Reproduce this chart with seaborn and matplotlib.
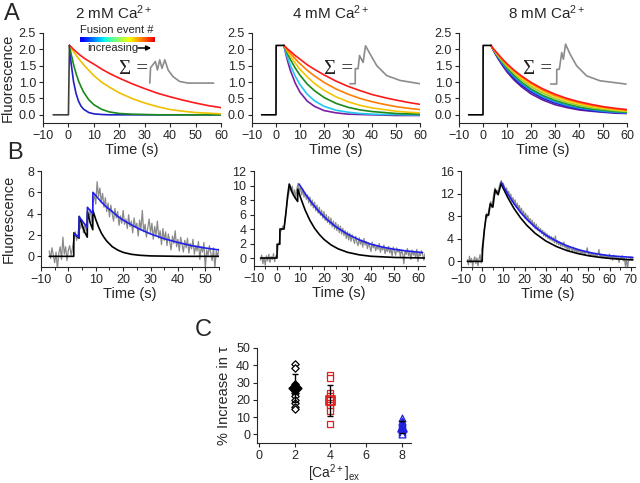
import numpy as np
import matplotlib
matplotlib.use("Agg")
import matplotlib.pyplot as plt
import seaborn as sns
from matplotlib.ticker import FormatStrFormatter, MultipleLocator

# ---------------- panel A: single fusion event curves ----------------
a1_t = [0.4, 1, 2, 3, 4, 5, 6, 8, 10, 13, 16, 20, 25, 30, 35, 40, 45, 50, 55, 60]
a1_blue = [2.12, 1.61, 1.02, 0.65, 0.41, 0.26, 0.17, 0.07, 0.03, 0.01, 0, 0, 0, 0, 0, 0, 0, 0, 0, 0]
a1_green = [2.12, 1.88, 1.54, 1.26, 1.03, 0.85, 0.69, 0.46, 0.31, 0.17, 0.09, 0.04, 0.02, 0.01, 0, 0, 0, 0, 0, 0]
a1_yellow = [2.12, 2.05, 1.93, 1.82, 1.72, 1.62, 1.53, 1.36, 1.20, 1.00, 0.85, 0.67, 0.50, 0.36, 0.25, 0.16, 0.11, 0.07, 0.05, 0.03]
a1_red = [2.12, 2.08, 2.00, 1.93, 1.86, 1.80, 1.74, 1.64, 1.55, 1.40, 1.27, 1.12, 0.95, 0.80, 0.66, 0.55, 0.45, 0.36, 0.28, 0.22]
a1_base_t = [-6, 0, 0.4]
a1_base_y = [0, 0, 2.12]

a23_t = [3.3, 4, 5, 6, 8, 10, 13, 16, 20, 25, 30, 35, 40, 45, 50, 55, 60]
a23_base_t = [-6, 0, 0.05, 3.3]
a23_base_y = [0, 0, 2.12, 2.12]

a2_purple = [2.12, 1.89, 1.60, 1.35, 0.97, 0.69, 0.42, 0.26, 0.13, 0.06, 0.02, 0.01, 0.0, -0.01, -0.02, -0.02, -0.02]
a2_cyan = [2.12, 1.94, 1.71, 1.51, 1.18, 0.92, 0.63, 0.43, 0.26, 0.14, 0.08, 0.04, 0.02, 0.01, 0.01, 0.0, 0.0]
a2_green = [2.12, 2.00, 1.84, 1.69, 1.43, 1.21, 0.94, 0.74, 0.53, 0.35, 0.23, 0.15, 0.10, 0.07, 0.04, 0.03, 0.02]
a2_yellow = [2.12, 2.03, 1.91, 1.79, 1.58, 1.39, 1.16, 0.96, 0.75, 0.55, 0.40, 0.29, 0.21, 0.16, 0.11, 0.08, 0.06]
a2_orange = [2.12, 2.05, 1.96, 1.88, 1.71, 1.56, 1.36, 1.19, 0.99, 0.79, 0.63, 0.50, 0.40, 0.32, 0.25, 0.20, 0.16]
a2_red = [2.12, 2.07, 2.00, 1.94, 1.81, 1.70, 1.53, 1.39, 1.22, 1.03, 0.87, 0.74, 0.62, 0.53, 0.45, 0.38, 0.32]

a3_curves = [
    [2.12, 2.02, 1.88, 1.75, 1.52, 1.31, 1.06, 0.86, 0.64, 0.45, 0.31, 0.22, 0.15, 0.11, 0.08, 0.05, 0.04],
    [2.12, 2.02, 1.89, 1.77, 1.55, 1.36, 1.11, 0.91, 0.70, 0.50, 0.36, 0.26, 0.18, 0.13, 0.09, 0.07, 0.05],
    [2.12, 2.03, 1.91, 1.79, 1.58, 1.39, 1.16, 0.96, 0.75, 0.55, 0.40, 0.29, 0.21, 0.16, 0.11, 0.08, 0.06],
    [2.12, 2.03, 1.92, 1.81, 1.61, 1.43, 1.20, 1.00, 0.79, 0.59, 0.44, 0.33, 0.24, 0.18, 0.14, 0.10, 0.08],
    [2.12, 2.04, 1.93, 1.83, 1.64, 1.48, 1.26, 1.07, 0.86, 0.66, 0.50, 0.38, 0.29, 0.22, 0.17, 0.13, 0.10],
    [2.12, 2.05, 1.95, 1.85, 1.68, 1.52, 1.31, 1.12, 0.92, 0.72, 0.56, 0.43, 0.34, 0.26, 0.21, 0.16, 0.12],
    [2.12, 2.05, 1.95, 1.86, 1.69, 1.54, 1.34, 1.16, 0.96, 0.75, 0.59, 0.47, 0.37, 0.29, 0.23, 0.18, 0.14],
    [2.12, 2.05, 1.96, 1.88, 1.71, 1.56, 1.36, 1.19, 0.99, 0.79, 0.63, 0.50, 0.40, 0.32, 0.25, 0.20, 0.16],
]
a3_colors = ["#6a1b9a", "#2020d0", "#1e90ff", "#1a9a2a", "#9acd32", "#ffd000", "#ff8c00", "#ff1a1a"]

# summed-trace insets
a1_sum_t = [32.0, 32.3, 34.2, 35.0, 35.9, 36.8, 37.9, 39.2, 41.1, 43.7, 47.0, 57.1]
a1_sum_y = [0.97, 1.44, 1.63, 1.37, 1.68, 1.42, 1.68, 1.37, 1.17, 1.02, 0.97, 0.97]
a2_sum_t = [30.8, 33.0, 33.05, 34.2, 34.8, 36.3, 37.3, 39.2, 42.0, 46.1, 51.7, 60.0]
a2_sum_y = [0.95, 0.95, 1.41, 1.41, 1.81, 1.60, 2.11, 1.86, 1.50, 1.20, 1.05, 0.95]
a3_sum_t = [28.2, 30.7, 30.75, 31.8, 32.8, 33.5, 34.4, 36.3, 39.0, 43.2, 48.75, 59.6]
a3_sum_y = [0.94, 0.94, 1.39, 1.39, 1.90, 1.70, 2.16, 1.85, 1.50, 1.19, 1.04, 0.94]

# ---------------- panel B: recorded traces + fits ----------------
b1_gray = [0.5, -0.2, 0.8, 0.1, -0.6, 0.4, -1.2, 0.3, 0.9, -0.3,
           1.8, 0.2, 0.9, -0.4, 0.6, 1.0, 0.1, 0.8, 1.6, 2.3,
           1.5, 2.1, 3.2, 2.6, 3.4, 2.2, 3.0, 2.4, 4.1, 3.6,
           4.4, 3.2, 5.0, 5.8, 4.9, 7.0, 5.6, 6.4, 5.1, 5.9,
           4.6, 5.5, 4.2, 5.0, 3.7, 4.8, 4.0, 3.3, 4.5, 3.6,
           4.2, 2.9, 3.8, 3.1, 4.3, 3.0, 3.5, 2.6, 3.9, 2.8,
           3.3, 2.2, 3.6, 2.7, 3.1, 1.9, 3.4, 2.5, 4.3, 2.3,
           3.0, 1.8, 2.7, 3.5, 2.2, 3.1, 1.6, 2.8, 2.0, 3.3,
           1.7, 2.4, 1.1, 2.6, 1.5, 2.3, 1.0, 2.1, 1.4, 0.6,
           1.9, 1.2, 2.4, 0.9, 1.6, 0.5, 1.8, 1.1, 0.4, 1.5,
           0.8, 1.7, 0.3, 1.2, 0.7, 1.6, 0.2, 1.0, 0.5, 1.4,
           -0.3, 0.9, 0.4, 1.3, -1.2, 0.6, 0.1, 1.0, 0.3, -0.4,
           0.8, -1.1, 0.5, 0.0, 0.7]
b1_black_t = [-7, 1.95, 2.0, 3.0, 3.9, 3.95, 4.9, 5.9, 6.9, 6.95, 7.9, 8.9, 8.95, 10, 11, 12, 13, 14, 16, 18, 20, 23, 26, 30, 40, 55]
b1_black_y = [0, 0, 2.2, 1.9, 1.7, 3.75, 3.0, 2.3, 1.8, 4.2, 3.2, 2.5, 4.3, 3.45, 2.77, 2.2, 1.78, 1.43, 0.91, 0.59, 0.37, 0.19, 0.1, 0.04, 0.0, 0.0]
b1_blue_t = [2, 3.9, 3.95, 6.9, 6.95, 8.9, 8.95, 10, 12, 14, 16, 18, 20, 23, 26, 30, 35, 40, 45, 50, 55]
b1_blue_y = [2.1, 1.8, 3.7, 2.7, 4.6, 4.0, 6.0, 5.7, 5.1, 4.6, 4.2, 3.75, 3.4, 2.95, 2.55, 2.1, 1.65, 1.3, 1.0, 0.78, 0.6]

b2_gray = [-0.3, 0.4, -0.8, 0.1, -1.0, 0.3, -0.4, 0.5, -0.6, 0.2,
           -0.2, 0.6, -0.5, 0.3, 0.1, 1.8, 2.3, 3.6, 3.9, 4.4,
           4.2, 5.6, 6.8, 8.1, 8.9, 10.1, 9.2, 9.9, 8.6, 9.4,
           8.3, 9.6, 10.3, 9.1, 9.8, 8.7, 9.5, 8.4, 9.0, 8.1,
           8.7, 7.6, 8.4, 7.2, 8.0, 6.9, 7.7, 6.5, 7.3, 6.2,
           7.0, 5.9, 6.6, 5.5, 6.4, 5.2, 6.0, 4.9, 5.7, 4.6,
           5.5, 4.3, 5.1, 4.0, 4.9, 3.8, 4.6, 3.5, 4.4, 3.3,
           4.1, 3.1, 3.8, 2.7, 3.6, 2.5, 3.4, 2.3, 3.2, 2.6,
           2.0, 3.0, 2.2, 1.7, 2.8, 1.9, 2.5, 1.5, 2.7, 1.8,
           2.3, 1.3, 2.1, 1.6, 0.9, 2.2, 1.4, 1.9, 1.0, 1.7,
           1.2, 2.0, 0.8, 1.5, 1.1, 1.8, 0.6, 1.4, 0.9, 1.6,
           0.7, 1.3, 0.3, 1.5, 1.0, 0.4, 1.4, 0.8, 1.2, 0.2,
           1.1, 0.6, -0.8, 1.0, 0.5, 1.3, 0.3, 0.9, -0.2, 1.1,
           0.4, 0.8, 0.1, 1.2, -0.5, 0.7, 0.3, 1.0, 0.5, -0.3,
           0.6]
b2_black_t = [-7, 0, 0.05, 1.2, 1.25, 3.0, 3.8, 4.5, 5.2, 6.5, 7.7, 8.8, 8.85, 10, 12, 14, 16, 18, 20, 23, 26, 30, 35, 40, 50, 63]
b2_black_y = [0, 0, 1.9, 1.9, 4.0, 4.0, 6.2, 8.5, 10.2, 9.0, 8.3, 7.8, 9.5, 8.35, 6.6, 5.2, 4.1, 3.26, 2.57, 1.81, 1.27, 0.79, 0.44, 0.24, 0.08, 0.0]
b2_blue_t = [9.4, 12, 15, 18, 21, 25, 30, 35, 40, 45, 50, 55, 62]
b2_blue_y = [10.2, 8.88, 7.51, 6.36, 5.38, 4.31, 3.3, 2.5, 1.9, 1.5, 1.2, 0.98, 0.75]

b3_gray = [0.3, -0.6, 0.9, -0.2, 0.5, -0.9, 0.2, 0.8, -0.4, 0.6,
           -0.8, 0.4, 1.2, -0.3, 0.5, 2.6, 5.8, 6.9, 8.5, 7.8,
           8.9, 9.8, 10.6, 9.5, 10.8, 12.1, 13.0, 11.9, 12.6, 12.0,
           13.2, 13.9, 14.3, 13.1, 13.8, 12.9, 12.2, 13.0, 11.8, 12.4,
           11.2, 11.9, 10.6, 11.3, 10.2, 10.9, 9.6, 10.3, 9.2, 9.9,
           8.6, 9.4, 8.2, 8.9, 7.7, 8.5, 7.4, 8.1, 7.0, 7.6,
           6.6, 7.3, 6.2, 6.9, 5.8, 6.6, 5.5, 6.1, 5.2, 5.8,
           4.9, 5.5, 4.5, 5.2, 4.3, 4.9, 4.0, 4.6, 3.8, 4.4,
           3.6, 4.2, 3.3, 4.5, 3.1, 3.7, 2.9, 3.5, 2.7, 3.3,
           2.6, 3.4, 2.4, 2.9, 2.1, 2.8, 1.9, 2.6, 2.2, 1.8,
           2.5, 1.7, 2.3, 1.5, 2.2, 1.6, 2.0, 1.3, 1.9, 1.4,
           1.8, 1.1, 1.7, 2.4, 1.2, 1.6, 0.9, 1.5, 1.1, 1.3,
           0.8, 1.4, 0.9, 1.2, 2.1, 0.7, 1.3, 0.6, 1.1, 0.8,
           1.2, 0.5, 1.0, 0.7, 1.3, 0.4, 0.9, 0.2, 1.1, 0.6,
           0.9, 0.3, 0.8, -0.2, 0.7, 0.4, 1.0, 0.1, 0.6, -0.9,
           0.5, -1.3, 0.4, 0.2, 0.8, 0.3, 0.6]
b3_black_t = [-7, 0, 0.05, 1.0, 1.9, 3.0, 3.8, 5.0, 6.1, 7.5, 8.9, 10, 12, 15, 18, 21, 25, 30, 35, 40, 45, 50, 55, 60, 65, 71]
b3_black_y = [0, 0, 2.1, 5.5, 8.2, 8.2, 10.2, 9.6, 12.7, 11.8, 13.8, 12.87, 11.33, 9.35, 7.73, 6.39, 4.95, 3.6, 2.62, 1.9, 1.38, 1.0, 0.73, 0.53, 0.39, 0.26]
b3_blue_t = [9, 12, 15, 18, 21, 25, 30, 35, 40, 45, 50, 55, 60, 65, 71]
b3_blue_y = [14.0, 11.95, 10.2, 8.72, 7.44, 6.03, 4.64, 3.57, 2.74, 2.1, 1.62, 1.26, 1.0, 0.85, 0.7]

# ---------------- panel C: % increase in tau ----------------
c_levels = [2, 4, 8]
c2_vals = [40.5, 38.5, 29, 28, 27.5, 27, 26.5, 26, 24, 22, 20, 18, 16, 14.5]
c4_vals = [34.5, 32.5, 24, 22, 20, 18, 17, 15, 13.5, 6]
c8_vals = [9.5, 8, 7, 6, 5, 4, 3, 2.5, 1.5, 0.5]
c_means = [27, 19.5, 4.5]
c_sd = [8, 9, 3.5]

# ---------------- figure ----------------
sns.set_style("ticks")
plt.rcParams["font.family"] = ["Liberation Sans", "DejaVu Sans"]
plt.rcParams["mathtext.fontset"] = "custom"
plt.rcParams["mathtext.rm"] = "Liberation Sans"
plt.rcParams["mathtext.it"] = "Liberation Sans:italic"

W, H = 640, 483
fig = plt.figure(figsize=(6.4, 4.83), dpi=100)


def add_ax(l, t, r, b):
    return fig.add_axes([l / W, 1 - b / H, (r - l) / W, (b - t) / H])


def line(ax, x, y, color, lw=1.2):
    sns.lineplot(x=np.asarray(x, float), y=np.asarray(y, float), ax=ax, color=color,
                 lw=lw, estimator=None, sort=False, legend=False)


def style(ax, xlim, ylim, xticks, yticks):
    ax.set_xlim(xlim)
    ax.set_ylim(ylim)
    ax.set_xticks(xticks)
    ax.set_yticks(yticks)
    sns.despine(ax=ax)
    for s in ["left", "bottom"]:
        ax.spines[s].set_linewidth(0.8)
    ax.tick_params(direction="out", length=3, width=0.8, labelsize=9, pad=2)
    ax.set_xlabel("Time (s)", fontsize=10.5, labelpad=1)
    ax.set_ylabel("")


# ---- row A ----
axA1 = add_ax(43, 33, 221, 123)
axA2 = add_ax(252, 33, 420, 123)
axA3 = add_ax(459, 33, 627, 123)

for c, ys in zip(["#2020c8", "#1a8a1a", "#f0c000", "#ff1a1a"],
                 [a1_blue, a1_green, a1_yellow, a1_red]):
    line(axA1, a1_t, ys, c)
line(axA1, a1_base_t, a1_base_y, "#404040")
line(axA1, a1_sum_t, a1_sum_y, "#8c8c8c")

for c, ys in zip(["#7b1fa2", "#1ec8f0", "#1a8a1a", "#f5c400", "#ff7f00", "#ff1a1a"],
                 [a2_purple, a2_cyan, a2_green, a2_yellow, a2_orange, a2_red]):
    line(axA2, a23_t, ys, c)
line(axA2, a23_base_t, a23_base_y, "k")
line(axA2, a2_sum_t, a2_sum_y, "#8c8c8c")

for c, ys in zip(a3_colors, a3_curves):
    line(axA3, a23_t, ys, c)
line(axA3, a23_base_t, a23_base_y, "k")
line(axA3, a3_sum_t, a3_sum_y, "#8c8c8c")

for ax, sx in [(axA1, 31.5), (axA2, 32.0), (axA3, 29.0)]:
    style(ax, (-10, 60), (-0.25, 2.5), range(-10, 61, 10), np.arange(0, 2.51, 0.5))
    ax.yaxis.set_major_formatter(FormatStrFormatter("%.1f"))
    ax.text(sx, 1.38, "Σ =", family=["Liberation Serif", "DejaVu Serif"], fontsize=15,
            ha="right", va="center", color="#222222")
axA1.set_ylabel("Fluorescence", fontsize=10.5, labelpad=3)

# colour bar legend in A1
cax = fig.add_axes([80 / W, 1 - 41.7 / H, 75 / W, 5 / H])
cax.imshow(np.linspace(0.1, 0.92, 256)[None, :], cmap="jet", aspect="auto", vmin=0, vmax=1)
cax.axis("off")
fig.text(80 / W, 1 - 30 / H, "Fusion event #", fontsize=8, va="center", ha="left")
fig.text(87 / W, 1 - 48 / H, "increasing", fontsize=8, va="center", ha="left")
axA1.annotate("", xy=(154 / W, 1 - 48 / H), xytext=(135 / W, 1 - 48 / H),
              xycoords="figure fraction", textcoords="figure fraction",
              arrowprops=dict(arrowstyle="-|>", color="k", lw=1.1, mutation_scale=7))

for x, t in [(114, "2 mM Ca$^{2+}$"), (331, "4 mM Ca$^{2+}$"), (547, "8 mM Ca$^{2+}$")]:
    fig.text(x / W, 1 - 13 / H, t, fontsize=11, ha="center", va="center")

# ---- row B ----
axB1 = add_ax(41, 171, 219, 267)
axB2 = add_ax(253.5, 171, 425, 266)
axB3 = add_ax(461, 171, 635, 267)

line(axB1, np.linspace(-7, 55, len(b1_gray)), b1_gray, "#8a8a8a", lw=0.9)
line(axB1, b1_black_t, b1_black_y, "k")
line(axB1, b1_blue_t, b1_blue_y, "#2020ee")
style(axB1, (-10, 55), (-1, 8), range(-10, 51, 10), range(0, 9, 2))
axB1.set_ylabel("Fluorescence", fontsize=10.5, labelpad=8)

line(axB2, np.linspace(-7, 63, len(b2_gray)), b2_gray, "#8a8a8a", lw=0.9)
line(axB2, b2_black_t, b2_black_y, "k")
line(axB2, b2_blue_t, b2_blue_y, "#2020ee")
style(axB2, (-10, 63), (-1.1, 12), range(-10, 61, 10), range(0, 13, 2))

line(axB3, np.linspace(-7, 71, len(b3_gray)), b3_gray, "#8a8a8a", lw=0.9)
line(axB3, b3_black_t, b3_black_y, "k")
line(axB3, b3_blue_t, b3_blue_y, "#2020ee")
style(axB3, (-10, 72), (-1, 16), range(-10, 71, 10), range(0, 17, 4))

for ax in (axB1, axB2, axB3):
    ax.xaxis.set_minor_locator(MultipleLocator(5))
    ax.tick_params(which="minor", direction="out", length=2, width=0.7)

# ---- panel C ----
axC = add_ax(257, 348, 411, 443)
sns.scatterplot(x=[c_levels[0]] * len(c2_vals), y=c2_vals, ax=axC, marker="D", s=14,
                facecolor="white", edgecolor="k", linewidth=0.9, zorder=3)
sns.scatterplot(x=[c_levels[1]] * len(c4_vals), y=c4_vals, ax=axC, marker="s", s=22,
                facecolor="white", edgecolor="#e02020", linewidth=0.9, zorder=3)
sns.scatterplot(x=[c_levels[2]] * len(c8_vals), y=c8_vals, ax=axC, marker="^", s=24,
                facecolor="white", edgecolor="#2020dd", linewidth=0.9, zorder=3)
for lv, m, sd, col, mk, fc in zip(c_levels, c_means, c_sd, ["k", "#e02020", "#2020dd"],
                                  ["D", "s", "^"], ["k", "none", "#2020dd"]):
    axC.errorbar(lv, m, yerr=sd, color="k", capsize=2.5, lw=1.0, capthick=1.0, zorder=4)
    axC.scatter([lv], [m], marker=mk, s=40, facecolor=fc, edgecolor=col, linewidth=1.3, zorder=5)
axC.set_xlim(-0.1, 8.5)
axC.set_ylim(-5, 50)
axC.set_xticks(range(0, 9, 2))
axC.set_yticks(range(0, 51, 10))
sns.despine(ax=axC)
for s in ["left", "bottom"]:
    axC.spines[s].set_linewidth(0.8)
axC.tick_params(direction="out", length=3, width=0.8, labelsize=9, pad=2)
axC.set_ylabel("% Increase in τ", fontsize=10.5, labelpad=4)
axC.set_xlabel("[Ca$^{2+}$]$_{\\rm ex}$", fontsize=10, labelpad=0)

# panel letters
fig.text(12 / W, 1 - 14 / H, "A", fontsize=17, ha="center", va="center")
fig.text(15 / W, 1 - 153 / H, "B", fontsize=17, ha="center", va="center")
fig.text(203 / W, 1 - 330 / H, "C", fontsize=17, ha="center", va="center")

fig.savefig("out.png", dpi=100)
